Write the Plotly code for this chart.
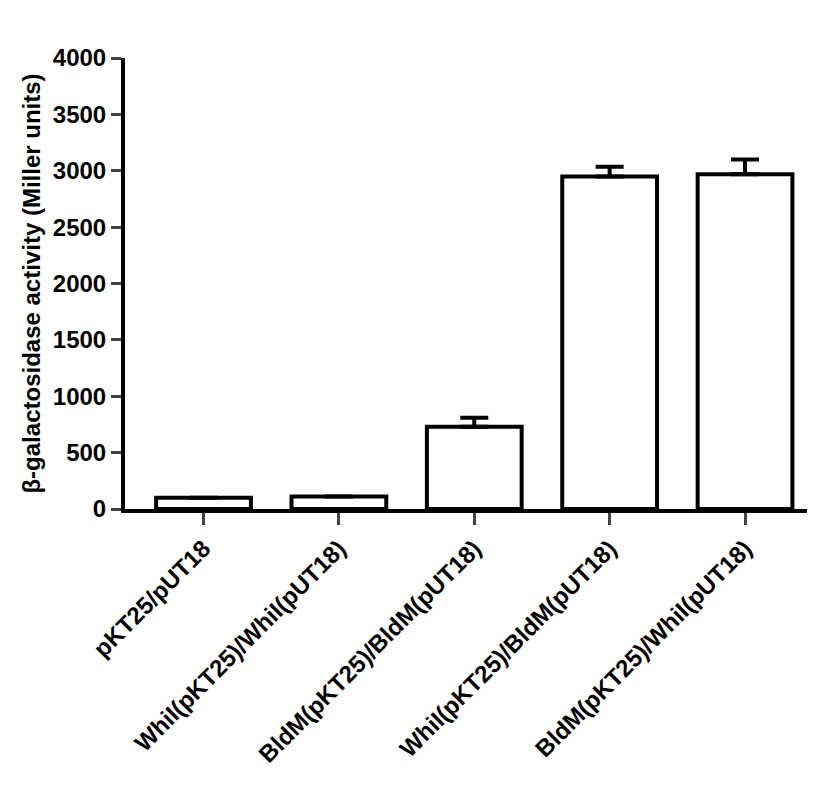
import plotly.graph_objects as go

categories = ['pKT25/pUT18', 'WhiI(pKT25)/WhiI(pUT18)', 'BldM(pKT25)/BldM(pUT18)',
              'WhiI(pKT25)/BldM(pUT18)', 'BldM(pKT25)/WhiI(pUT18)']
activity = [100, 110, 730, 2950, 2970]
errors = [0, 0, 80, 85, 130]

fig = go.Figure()
fig.add_trace(go.Bar(
    x=categories, y=activity, width=0.7,
    marker=dict(color='white', line=dict(color='black', width=4)),
    error_y=dict(type='data', array=errors, arrayminus=[0]*5, symmetric=False,
                 color='black', thickness=4, width=14, visible=True)))

fig.update_layout(
    width=815, height=800, paper_bgcolor='white', plot_bgcolor='white',
    margin=dict(l=117, r=13, t=50, b=299), showlegend=False,
    font=dict(family='Liberation Sans, Arial', size=20, color='black'),
    xaxis=dict(range=[-0.58, 4.48], showline=True, linecolor='black', linewidth=4,
               ticks='outside', ticklen=12, tickwidth=3, tickangle=-45,
               tickfont=dict(size=24, family='Liberation Sans, Arial'),
               tickprefix='<b>', ticksuffix='</b>'),
    yaxis=dict(range=[0, 4000], dtick=500, showline=True, linecolor='black', linewidth=4,
               ticks='outside', ticklen=10, tickwidth=3, showgrid=False, zeroline=False,
               tickfont=dict(size=24), tickprefix='<b>', ticksuffix='</b>',
               title=dict(text='<b>β-galactosidase activity (Miller units)</b>',
                          font=dict(size=24), standoff=6)),
)

fig.write_html("out.html")
